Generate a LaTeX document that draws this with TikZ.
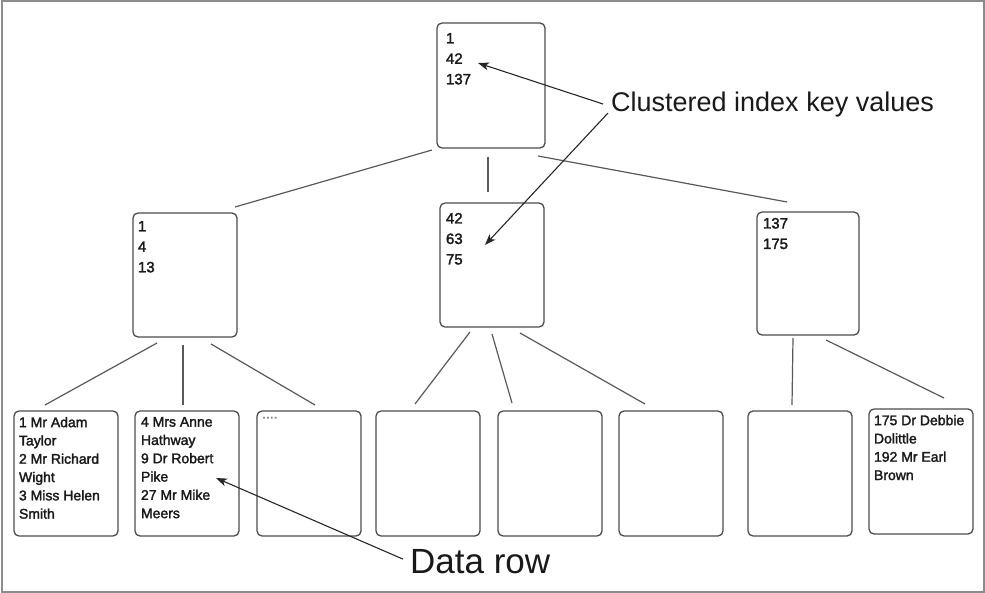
\documentclass[tikz,border=0pt]{standalone}
\usepackage{fontspec}
\setmainfont{Liberation Sans}
\newfontfamily\pagefont[FakeBold=2]{Liberation Sans}
\usetikzlibrary{arrows.meta,calc,positioning}
\newcommand{\pagetext}[3]{\parbox[t][#2pt][t]{#1pt}{\leavevmode#3}}

\begin{document}
\begin{tikzpicture}[x=1pt,y=-1pt,
   page/.style={draw=black!70, line width=1.3pt, rounded corners=5pt, outer sep=0pt, anchor=north west,
                inner xsep=6pt, inner ysep=8pt, text=black!90, font=\pagefont\fontsize{15}{20.5}\selectfont},
   datapage/.style={page, inner xsep=5pt, inner ysep=6pt, font=\pagefont\fontsize{14}{18.3}\selectfont},
   link/.style={draw=black!65, line width=1.2pt},
   pointer/.style={draw=black!85, line width=1.1pt, -{Stealth[length=11pt,width=8pt,inset=3pt]}},
   callout/.style={anchor=base west, inner sep=0pt, text=black!90}]
\useasboundingbox (0,0) rectangle (985,593);
\draw[black!45, line width=2pt] (1.5,1.5) rectangle (983.5,591.5);

% index pages
\node[page, inner xsep=9pt, inner ysep=10pt] (root) at (437,23) {\pagetext{90}{105}{1\\42\\137}};
\node[page, inner xsep=5pt] (ml) at (133,213) {\pagetext{94}{108}{1\\4\\13}};
\node[page, inner ysep=10pt] (mc) at (440,203) {\pagetext{92}{104}{42\\63\\75}};
\node[page, inner ysep=6pt] (mr) at (757,212) {\pagetext{90}{111}{137\\175}};

% data pages
\node[datapage] (l1) at (14,411) {\pagetext{94}{113}{1 Mr Adam\\Taylor\\2 Mr Richard\\Wight\\3 Miss Helen\\Smith}};
\node[datapage, inner xsep=6pt] (l2) at (135,411) {\pagetext{92}{113}{4 Mrs Anne\\Hathway\\9 Dr Robert\\Pike\\27 Mr Mike\\Meers}};
\node[datapage] (l3) at (257,411) {\pagetext{94}{113}{\color{black!50}....}};
\foreach \n/\x in {l4/376,l5/498,l6/619,l7/748}
  \node[datapage] (\n) at (\x,411) {\pagetext{94}{113}{}};
\node[datapage] (l8) at (869,409) {\pagetext{94}{113}{175 Dr Debbie\\Dolittle\\192 Mr Earl\\Brown}};

% tree links
\draw[link] ($(root.south west)+(-5,2)$) -- ($(ml.north east)+(-2,-6)$);
\draw[link] ($(root.south)+(-3,9)$) -- ($(mc.north)+(-4,-11)$);
\draw[link] ($(root.south east)+(-7,8)$) -- ($(mr.north)+(-21,-10)$);
\draw[link] ($(ml.south)+(-28,6)$) -- ($(l1.north)+(-21,-6)$);
\draw[link] ($(ml.south)+(-2,8)$) -- ($(l2.north)+(-4,-6)$);
\draw[link] ($(ml.south)+(26,7)$) -- ($(l3.north)+(6,-6)$);
\draw[link] ($(mc.south)+(-22,5)$) -- ($(l4.north)+(-13,-7)$);
\draw[link] ($(mc.south)+(0,7)$) -- ($(l5.north)+(-38,-8)$);
\draw[link] ($(mc.south)+(28,6)$) -- ($(l6.north)+(-26,-7)$);
\draw[link] ($(mr.south)+(-15,3)$) -- ($(l7.north)+(-8,-6)$);
\draw[link] ($(mr.south)+(18,5)$) -- ($(l8.north)+(23,-11)$);

% callouts
\node[callout, font=\fontsize{27}{30}\selectfont] (ckey) at (611,112) {Clustered index key values};
\node[callout, font=\fontsize{35}{40}\selectfont] (drow) at (410,573) {Data row};
\coordinate (k42) at (478,63);
\coordinate (k63) at (485,245);
\coordinate (pike) at (216,478);
\draw[pointer] ($(ckey.west)+(-8,-1)$) -- (k42);
\draw[pointer] ($(ckey.west)+(-3,8)$) -- (k63);
\draw[pointer] ($(drow.west)+(-7,-2)$) -- (pike);
\end{tikzpicture}
\end{document}
